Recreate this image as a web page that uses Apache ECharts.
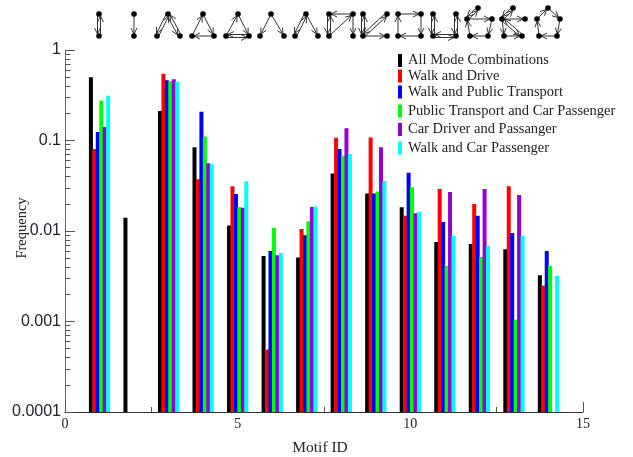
<!DOCTYPE html>
<html><head><meta charset="utf-8">
<style>html,body{margin:0;padding:0;background:#fff}#c{width:633px;height:457px}</style>
<script src="https://cdn.jsdelivr.net/npm/echarts@6/dist/echarts.min.js"></script>
</head><body><div id="c"></div>
<script>
const motifIds=[1,2,3,4,5,6,7,8,9,10,11,12,13,14];
const seriesNames=["All Mode Combinations","Walk and Drive","Walk and Public Transport","Public Transport and Car Passenger","Car Driver and Passanger","Walk and Car Passenger"];
const allMode=[0.50,0.014,0.212,0.084,0.0115,0.0053,0.0051,0.0433,0.026,0.0183,0.00755,0.00718,0.0063,0.00324];
const walkDrive=[0.0805,null,0.547,0.0372,0.0312,0.00049,0.0105,0.107,0.108,0.0147,0.0291,0.0199,0.0312,0.00249];
const walkPublic=[0.124,null,0.462,0.208,0.0256,0.006,0.009,0.0805,0.026,0.044,0.0126,0.0147,0.0095,0.00601];
const publicCar=[0.275,null,0.451,0.111,0.0184,0.0108,0.0128,0.068,0.0274,0.0304,0.0041,0.00516,0.00105,0.0041];
const driverPass=[0.141,null,0.474,0.056,0.0181,0.0054,0.0184,0.137,0.084,0.0157,0.027,0.0291,0.025,null];
const walkCar=[0.313,null,0.443,0.0546,0.0354,0.0057,0.0187,0.071,0.0356,0.0162,0.00887,0.00687,0.00887,0.00318];
const seriesValues=[allMode,walkDrive,walkPublic,publicCar,driverPass,walkCar];
const seriesColors=["#000000","#ff0000","#0000ff","#00ff00","#9400d3","#00ffff"];
const xTickLabels=[0,5,10,15];
const yTickLabels=[0.0001,0.001,0.01,0.1,1];
const yFloor=0.0001;
const yMinorTicks=[];
[0.0001,0.001,0.01,0.1].forEach(d=>{for(let k=2;k<=9;k++)yMinorTicks.push(+(d*k).toPrecision(3));});
const legendCenters=[60.5,76,92,111,129.5,148];

// motif glyphs: node positions, then edges [from,to,bothWays]
const glyphs=[
 {n:[[99,14],[99,36]],e:[[0,1,1]]},
 {n:[[134,14],[134,36]],e:[[0,1,0]]},
 {n:[[168,14],[157,36],[180,36]],e:[[0,1,1],[0,2,1]]},
 {n:[[203,14],[192,36],[214,36]],e:[[1,0,0],[0,2,0],[2,1,0]]},
 {n:[[238,14],[226,36],[249,36]],e:[[1,0,0],[0,2,0],[1,2,1]]},
 {n:[[271,14],[260,36],[284,36]],e:[[0,1,0],[0,2,0]]},
 {n:[[306,14],[295,36],[318,36]],e:[[0,1,1],[0,2,0]]},
 {n:[[329,14],[329,36],[353,14],[353,36]],e:[[0,1,1],[2,0,0],[1,2,0],[2,3,0]]},
 {n:[[363,14],[363,36],[387,14],[387,36]],e:[[0,1,1],[1,2,1],[1,3,0]]},
 {n:[[398,14],[398,36],[421,14],[421,36]],e:[[0,2,0],[2,3,0],[3,1,0],[1,0,0]]},
 {n:[[433,14],[433,36],[456,14],[456,36]],e:[[0,1,1],[1,3,1],[3,2,1]]},
 {n:[[478,8],[467,19],[492,19],[470,36],[488,36]],e:[[0,1,1],[1,2,0],[2,4,0],[4,3,0],[3,1,0]]},
 {n:[[513,8],[502,19],[525,19],[504,36],[522,36]],e:[[0,1,1],[1,2,0],[1,3,0],[1,4,1],[3,4,0]]},
 {n:[[548,8],[537,19],[560,19],[539,36],[557,36]],e:[[1,0,0],[0,2,0],[2,4,0],[4,3,0],[3,1,0]]}
];
function arrow(a,b,off,out){
  const dx=b[0]-a[0],dy=b[1]-a[1],L=Math.hypot(dx,dy),ux=dx/L,uy=dy/L,px=-uy,py=ux;
  const x1=a[0]+px*off+ux*2,y1=a[1]+py*off+uy*2,x2=b[0]+px*off-ux*2,y2=b[1]+py*off-uy*2;
  const st={stroke:"#333",lineWidth:1,fill:null};
  out.push({type:"line",silent:true,shape:{x1,y1,x2,y2},style:st});
  out.push({type:"polyline",silent:true,shape:{points:[[x2-ux*6+px*3,y2-uy*6+py*3],[x2,y2],[x2-ux*6-px*3,y2-uy*6-py*3]]},style:st});
}
const glyphEls=[];
glyphs.forEach(g=>{
  g.e.forEach(([f,t,both])=>{
    if(both){arrow(g.n[f],g.n[t],1.5,glyphEls);arrow(g.n[t],g.n[f],1.5,glyphEls);}
    else arrow(g.n[f],g.n[t],0,glyphEls);
  });
  g.n.forEach(p=>glyphEls.push({type:"circle",silent:true,shape:{cx:p[0],cy:p[1],r:2.8},style:{fill:"#000"}}));
});

const serif='"Liberation Serif",serif', sans='"Liberation Sans",sans-serif';
const BAR_STEP=3.45, BAR_W=4;
function barRenderer(slot){
  return function(params,api){
    const top=api.coord([api.value(0),api.value(1)]);
    const base=api.coord([api.value(0),yFloor]);
    const x=top[0]+(slot-2.5)*BAR_STEP-BAR_W/2;
    return {type:"rect",shape:{x,y:top[1],width:BAR_W,height:base[1]-top[1]},style:{fill:seriesColors[slot]}};
  };
}
const chart=echarts.init(document.getElementById("c"),null,{renderer:"canvas"});
chart.setOption({
  animation:false,backgroundColor:"#fff",
  grid:{left:65,right:50,top:50,bottom:45,containLabel:false,outerBoundsMode:"none"},
  legend:seriesNames.map((nm,i)=>({data:[{name:nm,icon:"rect",itemStyle:{color:seriesColors[i]}}],left:398,top:legendCenters[i]-8,itemWidth:4,itemHeight:13,itemGap:0,
    selectedMode:false,padding:0,textStyle:{fontFamily:serif,fontSize:14.5,color:"#222",padding:[0,0,0,1],lineHeight:16}})),
  xAxis:{type:"value",min:0,max:15,interval:5,name:"Motif ID",nameLocation:"middle",nameGap:28,
    nameMoveOverlap:false,
    nameTextStyle:{fontFamily:serif,fontSize:15.5,color:"#222",padding:[0,8,0,0]},
    axisLine:{show:true,onZero:false,lineStyle:{color:"#333",width:1}},
    axisTick:{show:true,inside:true,length:10,lineStyle:{color:"#555"}},
    minorTick:{show:true,splitNumber:2,length:5,lineStyle:{color:"#555"}},
    splitLine:{show:false},minorSplitLine:{show:false},
    axisLabel:{fontFamily:serif,fontSize:14,color:"#222",margin:5,customValues:xTickLabels}},
  yAxis:[{type:"log",logBase:10,min:0.0001,max:1,name:"Frequency",nameLocation:"middle",nameGap:35,
    nameMoveOverlap:false,
    nameTextStyle:{fontFamily:serif,fontSize:14.5,color:"#222",padding:[0,0,0,6]},
    axisLine:{show:true,onZero:false,lineStyle:{color:"#666",width:1}},
    axisTick:{show:true,inside:true,length:10,lineStyle:{color:"#555"}},
    splitLine:{show:false},minorTick:{show:false},
    axisLabel:{fontFamily:sans,fontSize:16,color:"#223",margin:4,customValues:yTickLabels,
      formatter:v=>String(+(+v).toPrecision(1))}},
   {type:"log",logBase:10,min:0.0001,max:1,position:"left",offset:0,
    axisLine:{show:false},axisLabel:{show:false},splitLine:{show:false},
    axisTick:{show:true,inside:true,length:5.5,customValues:yMinorTicks,lineStyle:{color:"#555"}}}],
  series:seriesNames.map((nm,i)=>({name:nm,type:"custom",renderItem:barRenderer(i),
    clip:false,itemStyle:{color:seriesColors[i]},encode:{x:0,y:1},
    data:motifIds.map((id,k)=>[id,seriesValues[i][k]]).filter(d=>d[1]!=null)})),
  graphic:{elements:glyphEls}
});
</script></body></html>
